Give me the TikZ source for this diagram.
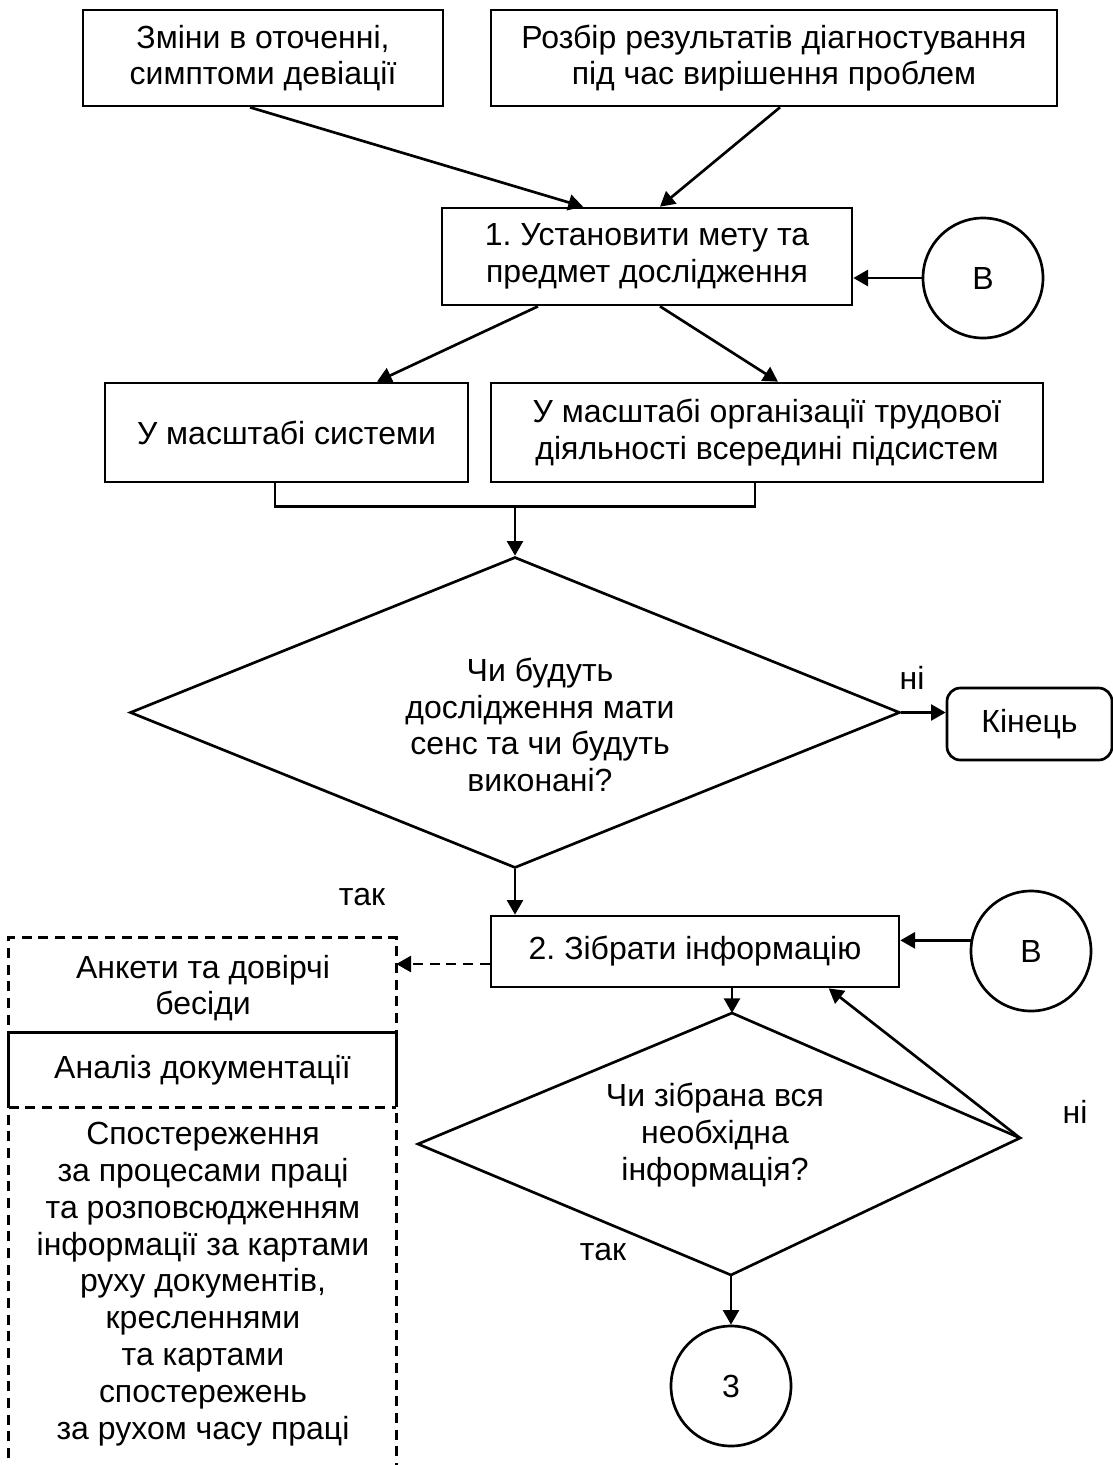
\documentclass[tikz,border=0pt]{standalone}
\usepackage{fontspec}
\setmainfont{Liberation Sans}
\usetikzlibrary{arrows.meta,shapes.geometric,calc}
\frenchspacing

\begin{document}
\begin{tikzpicture}[x=0.75pt,y=-0.75pt,
  every node/.style={font=\fontsize{24}{27.6}\selectfont},
  line width=2pt,
  box/.style={draw, line width=2pt, inner sep=0pt, align=center},
  plain/.style={inner sep=0pt, align=center},
  conn/.style={circle, draw, line width=2pt, minimum size=90pt, inner sep=0pt},
  decision/.style={diamond, draw, line width=2pt, inner sep=0pt},
  arr/.style={-{Triangle[length=11pt,width=12pt]}},
  dashline/.style={dash pattern=on 7.5pt off 5pt}
]
\clip (0,0) rectangle (1113,1465);
\useasboundingbox (0,0) rectangle (1113,1465);

% sources
\node[box, minimum width=270pt, minimum height=72pt] (srcA) at (263,58) {Зміни в оточенні,\\симптоми девіації};
\node[box, minimum width=424.5pt, minimum height=72pt] (srcB) at (774,58) {Розбір результатів діагностування\\під час вирішення проблем};

% step 1
\node[box, minimum width=307.5pt, minimum height=72.75pt] (s1) at (647,256.5) {1. Установити мету та\\предмет дослідження};
\node[conn] (c1) at (983,278) {B};

% scopes
\node[box, minimum width=272.25pt, minimum height=74.25pt] (scA) at (286.5,432.5) {У масштабі системи};
\node[box, minimum width=414pt, minimum height=74.25pt] (scB) at (767,432.5) {У масштабі організації трудової\\діяльності всередині підсистем};

% first decision
\node[decision, minimum width=577.5pt, minimum height=233.25pt] (d1) at (515,712.5) {};
\node[plain] (d1t) at (540,725) {Чи будуть\\дослідження мати\\сенс та чи будуть\\виконані?};
\node[box, rounded corners=10pt, minimum width=123.75pt, minimum height=54pt] (fin) at (1029.5,724) {Кінець};
\node[plain] (no1) at (912,678) {ні};
\node[plain] (yes1) at (362,897) {так};

% step 2
\node[box, minimum width=306pt, minimum height=53.25pt] (s2) at (695,951.5) {2. Зібрати інформацію};
\node[conn] (c2) at (1031,951) {B};

% methods group
\node[inner sep=0pt, minimum width=288.75pt, minimum height=413.25pt] (grp) at (202.5,1214.5) {};
\draw[dashline] (grp.south west) -- (grp.north west) -- (grp.north east) -- (grp.south east);
\node[plain] (m1) at (203,988) {Анкети та довірчі\\бесіди};
\node[inner sep=0pt, minimum width=288.75pt, minimum height=54pt] (doc) at (202.5,1070) {Аналіз документації};
\draw (doc.south west) -- (doc.north west) -- (doc.north east) -- (doc.south east);
\draw[dashline] (doc.south west) -- (doc.south east);
\node[plain] (m3) at (203,1284) {Спостереження\\за процесами праці\\та розповсюдженням\\інформації за картами\\руху документів,\\кресленнями\\та картами\\спостережень\\за рухом часу праці};

% second decision
\coordinate (d2n) at (732,1013);
\coordinate (d2e) at (1020,1138);
\coordinate (d2s) at (731,1275);
\coordinate (d2w) at (418,1144);
\draw[line join=miter] (d2n) -- (d2e) -- (d2s) -- (d2w) -- cycle;
\node[plain] (d2t) at (715,1135) {Чи зібрана вся\\необхідна\\інформація?};
\node[plain] (no2) at (1075,1112) {ні};
\node[plain] (yes2) at (603,1252) {так};
\node[conn] (c3) at (731,1386) {3};

% connectors
\draw[arr] ($(srcA.south)+(-13,0)$) -- ($(s1.north)+(-64,0)$);
\draw[arr] ($(srcB.south)+(6,0)$) -- ($(s1.north)+(13,0)$);
\draw[arr] (c1.west) -- (c1.west -| s1.east);
\draw[arr] ($(s1.south)+(-109,0)$) -- ($(scA.north)+(90.5,0)$);
\draw[arr] ($(s1.south)+(13,0)$) -- ($(scB.north)+(11,0)$);
\coordinate (brL) at ($(scA.south)+(-11.5,23)$);
\coordinate (brR) at ($(scB.south)+(-12,23)$);
\draw ($(scA.south)+(-11.5,0)$) -- (brL) -- (brR) -- ($(scB.south)+(-12,0)$);
\coordinate (brM) at ($(brL)!0.5!(brR)$);
\draw[arr] (brM) -- (d1.north);
\draw[arr] (d1.east) -- (d1.east -| fin.west);
\draw[arr] (d1.south) -- (d1.south |- s2.north);
\draw[arr] (c2.170) -- (c2.170 -| s2.east);
\coordinate (s2out) at ($(s2.west)+(0,12.5)$);
\draw[arr, dashline] (s2out) -- (s2out -| grp.east);
\draw[arr] (d2n |- s2.south) -- (d2n);
\draw[arr] (d2e) -- ($(s2.south west)+(339,0)$);
\draw[arr] (d2s) -- (d2s |- c3.north);
\end{tikzpicture}
\end{document}
